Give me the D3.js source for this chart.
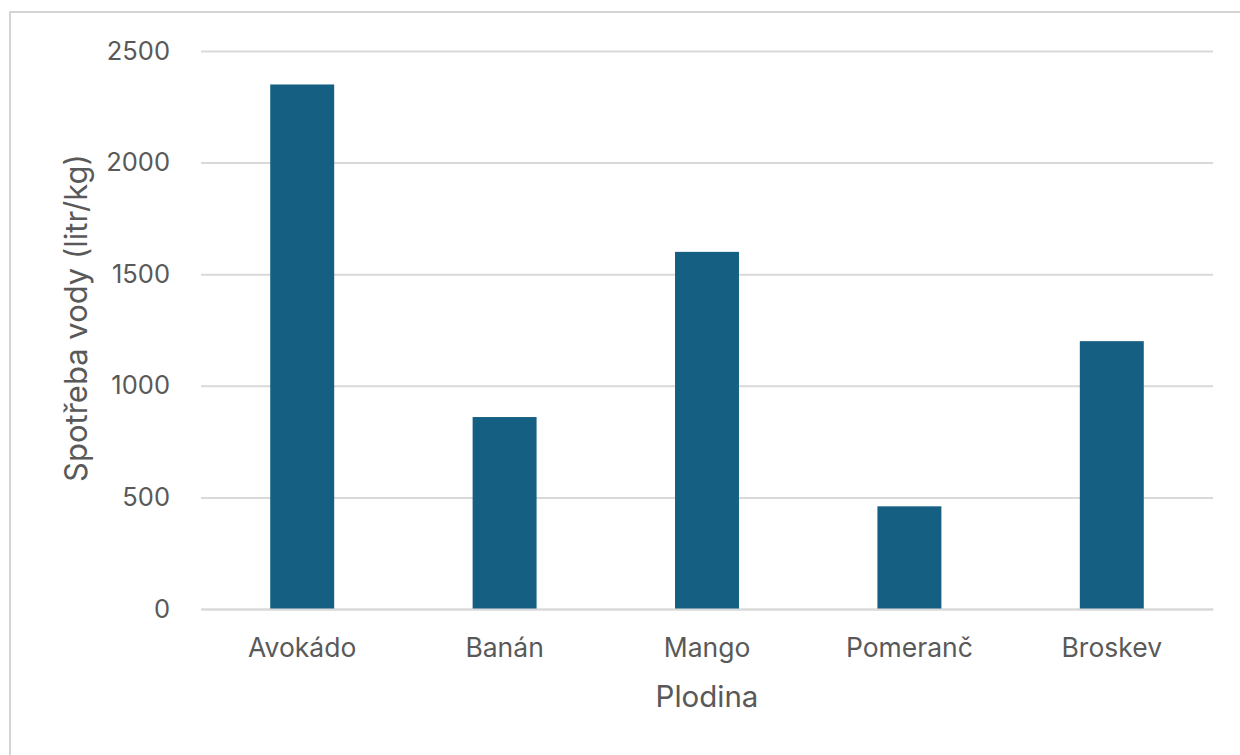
<!DOCTYPE html>
<html>
<head>
<meta charset="utf-8">
<script src="https://cdn.jsdelivr.net/npm/d3@7"></script>
<style>
  body { margin: 0; background: #fff; }
  text { font-family: Inter, "Open Sans", sans-serif; fill: #595959; }
</style>
</head>
<body>
<div id="chart"></div>
<script>
// data
const crops = ["Avokádo", "Banán", "Mango", "Pomeranč", "Broskev"];
const water = [2350, 860, 1600, 460, 1200];
const yTicks = [0, 500, 1000, 1500, 2000, 2500];

const width = 1240;
const height = 755;
const margin = { top: 51, right: 27, bottom: 146, left: 201 };

const svg = d3.select("#chart")
    .append("svg")
    .attr("width", width)
    .attr("height", height);

// frame of the chart area (only top and left edges are visible)
svg.append("rect")
    .attr("x", 10)
    .attr("y", 12)
    .attr("width", width + 20)
    .attr("height", height + 20)
    .attr("fill", "none")
    .attr("stroke", "#d4d4d4")
    .attr("stroke-width", 2);

const x = d3.scaleBand()
    .domain(crops)
    .range([margin.left, width - margin.right])
    .paddingInner(0.684)
    .paddingOuter(0.342);

const y = d3.scaleLinear()
    .domain([0, 2500])
    .range([height - margin.bottom, margin.top]);

// gridlines
const yAxis = svg.append("g")
    .attr("transform", `translate(${margin.left},0)`)
    .call(d3.axisLeft(y)
        .tickValues(yTicks)
        .tickSize(-(width - margin.left - margin.right))
        .tickPadding(31)
        .tickFormat(d3.format("d")));

yAxis.select(".domain").remove();
yAxis.selectAll(".tick line")
    .attr("stroke", "#d9d9d9")
    .attr("stroke-width", 2);
yAxis.selectAll(".tick text")
    .style("font-size", "25.5px")
    .attr("fill", "#595959");

// bars
svg.append("g")
    .selectAll("rect")
    .data(crops)
    .enter()
    .append("rect")
    .attr("x", d => x(d))
    .attr("y", (d, i) => y(water[i]))
    .attr("width", x.bandwidth())
    .attr("height", (d, i) => y(0) - y(water[i]))
    .attr("fill", "#156082");

// category axis
const xAxis = svg.append("g")
    .attr("transform", `translate(0,${y(0)})`)
    .call(d3.axisBottom(x).tickSize(0).tickPadding(29));

xAxis.select(".domain")
    .attr("stroke", "#d9d9d9")
    .attr("stroke-width", 2);
xAxis.selectAll(".tick text")
    .style("font-size", "26.5px")
    .attr("fill", "#595959");

// axis titles
svg.append("text")
    .attr("x", (margin.left + width - margin.right) / 2)
    .attr("y", 707)
    .attr("text-anchor", "middle")
    .style("font-size", "29.5px")
    .text("Plodina");

svg.append("text")
    .attr("transform", `translate(87,${(y(0) + y(2500)) / 2 - 12}) rotate(-90)`)
    .attr("text-anchor", "middle")
    .style("font-size", "31px")
    .text("Spotřeba vody (litr/kg)");
</script>
</body>
</html>
